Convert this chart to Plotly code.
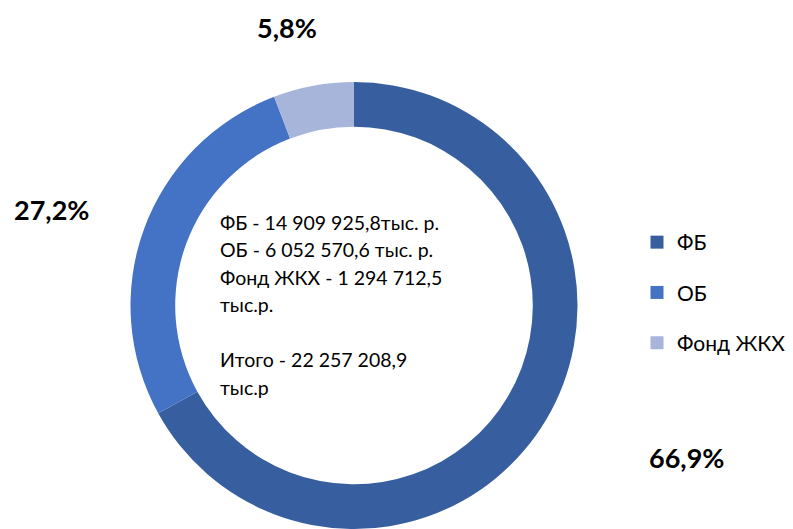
import plotly.graph_objects as go

labels = ["ФБ", "ОБ", "Фонд ЖКХ"]
values = [14909925.8, 6052570.6, 1294712.5]
pct_text = ["66,9%", "27,2%", "5,8%"]
colors = ["#375FA0", "#4472C4", "#A7B5DB"]
center_lines = [
    "ФБ - 14 909 925,8тыс. р.",
    "ОБ - 6 052 570,6 тыс. р.",
    "Фонд ЖКХ - 1 294 712,5",
    "тыс.р.",
    "",
    "Итого - 22 257 208,9",
    "тыс.р",
]

W, H = 793, 529
FONT = "Lato, Carlito, Calibri, sans-serif"

fig = go.Figure()
fig.add_trace(go.Pie(
    labels=labels, values=values, hole=0.8, sort=False,
    direction="clockwise", rotation=0,
    marker=dict(colors=colors, line=dict(width=0)),
    textinfo="none", showlegend=False, hoverinfo="label+value+percent",
    domain=dict(x=[(354 - 223.5) / W, (354 + 223.5) / W], y=[0, 1 - 82 / H]),
))

# legend via dummy traces (for spacing)
for lab, col in zip(labels, colors):
    fig.add_trace(go.Scatter(
        x=[None], y=[None], mode="markers", name=lab, legendgroup=lab,
        marker=dict(symbol="square", size=13, color=col),
    ))

# percentage labels
pct_pos = [(686, 457), (51, 209), (287, 28)]
for t, (px, py) in zip(pct_text, pct_pos):
    fig.add_annotation(x=px / W, y=1 - py / H, xref="paper", yref="paper",
                       text="<b>" + t + "</b>", showarrow=False,
                       xanchor="center", yanchor="middle",
                       font=dict(family=FONT, size=27, color="#000000"))

# center text
y0, dy = 222, 27.5
for i, line in enumerate(center_lines):
    if not line:
        continue
    fig.add_annotation(x=218 / W, y=1 - (y0 + i * dy) / H, xref="paper", yref="paper",
                       text=line, showarrow=False, xanchor="left", yanchor="middle",
                       align="left",
                       font=dict(family=FONT, size=19.5, color="#000000"))

fig.update_layout(
    width=W, height=H,
    margin=dict(l=0, r=0, t=0, b=0),
    paper_bgcolor="white", plot_bgcolor="white",
    xaxis=dict(visible=False), yaxis=dict(visible=False),
    showlegend=True,
    legend=dict(x=637 / W, y=1 - 222 / H, xanchor="left", yanchor="top",
                font=dict(family=FONT, size=21, color="#000000"),
                tracegroupgap=20, bgcolor="rgba(0,0,0,0)", itemsizing="trace"),
)

fig.write_html("out.html", config={"displayModeBar": False},
               post_script="document.body.style.margin='0';document.body.style.overflow='hidden';")
